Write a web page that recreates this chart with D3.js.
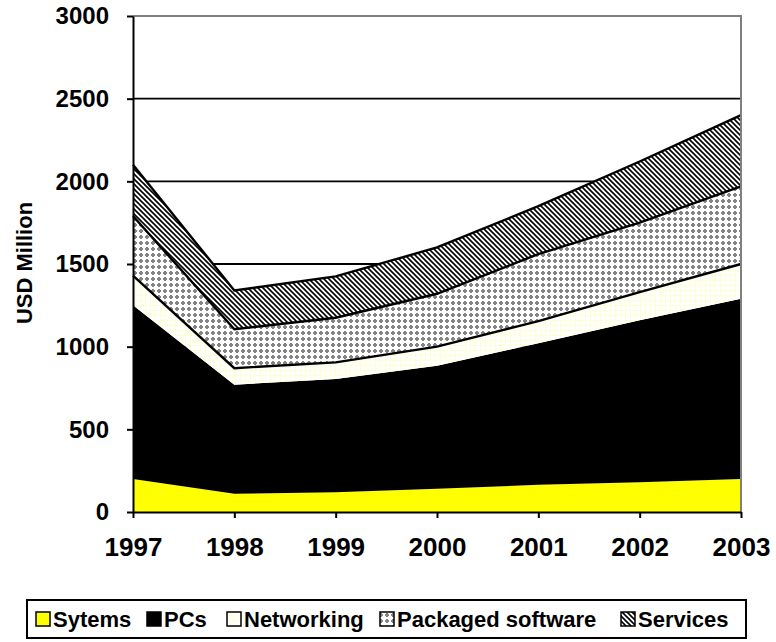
<!DOCTYPE html>
<html><head><meta charset="utf-8">
<script src="https://cdn.jsdelivr.net/npm/d3@7"></script>
<style>body{margin:0;background:#fff}svg{display:block;font-family:"Liberation Sans",Arial,sans-serif;font-weight:bold}</style>
</head><body><svg id="c" width="776" height="642"></svg>
<script>
const years = ["1997","1998","1999","2000","2001","2002","2003"];
const seriesNames = ["Sytems","PCs","Networking","Packaged software","Services"];
const systems    = [200,110,120,140,165,180,200];
const pcs        = [1050,660,685,745,855,980,1090];
const networking = [180,100,100,115,135,170,210];
const packaged   = [360,235,270,320,405,420,470];
const services   = [310,235,250,280,290,370,430];
const yTicks = [0,500,1000,1500,2000,2500,3000];

const svg = d3.select("#c");
const defs = svg.append("defs");
// Networking: white with pale yellow grid
const pN = defs.append("pattern").attr("id","pNet").attr("patternUnits","userSpaceOnUse").attr("width",5).attr("height",5);
pN.append("rect").attr("width",5).attr("height",5).attr("fill","#fff");
pN.append("rect").attr("x",0).attr("y",0).attr("width",5).attr("height",1).attr("fill","#ffffd6");
pN.append("rect").attr("x",0).attr("y",0).attr("width",1).attr("height",5).attr("fill","#ffffd6");
// Packaged software: grey plus dots
const pP = defs.append("pattern").attr("id","pPkg").attr("patternUnits","userSpaceOnUse").attr("width",6).attr("height",6);
pP.append("rect").attr("width",6).attr("height",6).attr("fill","#fff");
pP.append("rect").attr("x",1).attr("y",2).attr("width",4).attr("height",2).attr("fill","#858585");
pP.append("rect").attr("x",2).attr("y",1).attr("width",2).attr("height",4).attr("fill","#858585");
// Services: diagonal hatch
const pS = defs.append("pattern").attr("id","pSvc").attr("patternUnits","userSpaceOnUse").attr("width",5).attr("height",5);
pS.append("rect").attr("width",5).attr("height",5).attr("fill","#fff");
pS.append("path").attr("d","M-1,-1L6,6M-1,4L1,6M4,-1L6,1").attr("stroke","#000").attr("stroke-width",1.6);

const fills = ["#ffff00","#000000","url(#pNet)","url(#pPkg)","url(#pSvc)"];
const topLine = [false,false,true,true,true];

const x = d3.scalePoint().domain(years).range([133,741]);
const y = d3.scaleLinear().domain([0,3000]).range([512,16]);

const rows = years.map((yr,i)=>({year:yr, s0:systems[i], s1:pcs[i], s2:networking[i], s3:packaged[i], s4:services[i]}));
const layers = d3.stack().keys(["s0","s1","s2","s3","s4"])(rows);

// gridlines
svg.append("g").selectAll("line").data(yTicks.filter(d=>d>0 && d<3000)).join("line")
  .attr("x1",133).attr("x2",741).attr("y1",d=>y(d)).attr("y2",d=>y(d))
  .attr("stroke","#000").attr("stroke-width",1.8);

const area = d3.area().x(d=>x(d.data.year)).y0(d=>y(d[0])).y1(d=>y(d[1]));
const line = d3.line().x(d=>x(d.data.year)).y(d=>y(d[1]));
svg.append("g").selectAll("path").data(layers).join("path")
  .attr("d",area).attr("fill",(d,i)=>fills[i]);
svg.append("g").selectAll("path").data(layers.filter((d,i)=>topLine[i])).join("path")
  .attr("d",line).attr("fill","none").attr("stroke","#000").attr("stroke-width",2.4).attr("stroke-linejoin","miter");

// plot border top/right grey
svg.append("path").attr("d",`M133,${y(3000)}H741V${y(0)}`).attr("fill","none").attr("stroke","#808080").attr("stroke-width",2);

// axes
const ya = svg.append("g").attr("transform","translate(133,0)")
  .call(d3.axisLeft(y).tickValues(yTicks).tickFormat(d3.format("d")).tickSize(6).tickPadding(18).tickSizeOuter(0));
ya.select(".domain").attr("stroke","#000").attr("stroke-width",2);
ya.selectAll(".tick line").attr("stroke","#000").attr("stroke-width",2);
ya.selectAll("text").attr("font-size",24).attr("fill","#000").attr("font-family","Liberation Sans, Arial").attr("font-weight","bold");

const xa = svg.append("g").attr("transform","translate(0,512)")
  .call(d3.axisBottom(x).tickSize(6).tickPadding(20).tickSizeOuter(0));
xa.select(".domain").attr("stroke","#000").attr("stroke-width",2);
xa.selectAll(".tick line").attr("stroke","#000").attr("stroke-width",2);
xa.selectAll("text").attr("font-size",26).attr("fill","#000").attr("font-family","Liberation Sans, Arial").attr("font-weight","bold");

svg.append("text").attr("transform","translate(32,263) rotate(-90)").attr("text-anchor","middle")
  .attr("font-size",22).text("USD Million");

// legend
const legendX = [36,147,227,380,621];
const lg = svg.append("g");
lg.append("rect").attr("x",27).attr("y",600).attr("width",719).attr("height",38).attr("fill","#fff").attr("stroke","#000").attr("stroke-width",2);
seriesNames.forEach((n,i)=>{
  lg.append("rect").attr("x",legendX[i]).attr("y",612).attr("width",14).attr("height",14).attr("fill",fills[i]).attr("stroke","#000").attr("stroke-width",1.5);
  lg.append("text").attr("x",legendX[i]+17).attr("y",627).attr("font-size",22).text(n);
});
</script></body></html>
